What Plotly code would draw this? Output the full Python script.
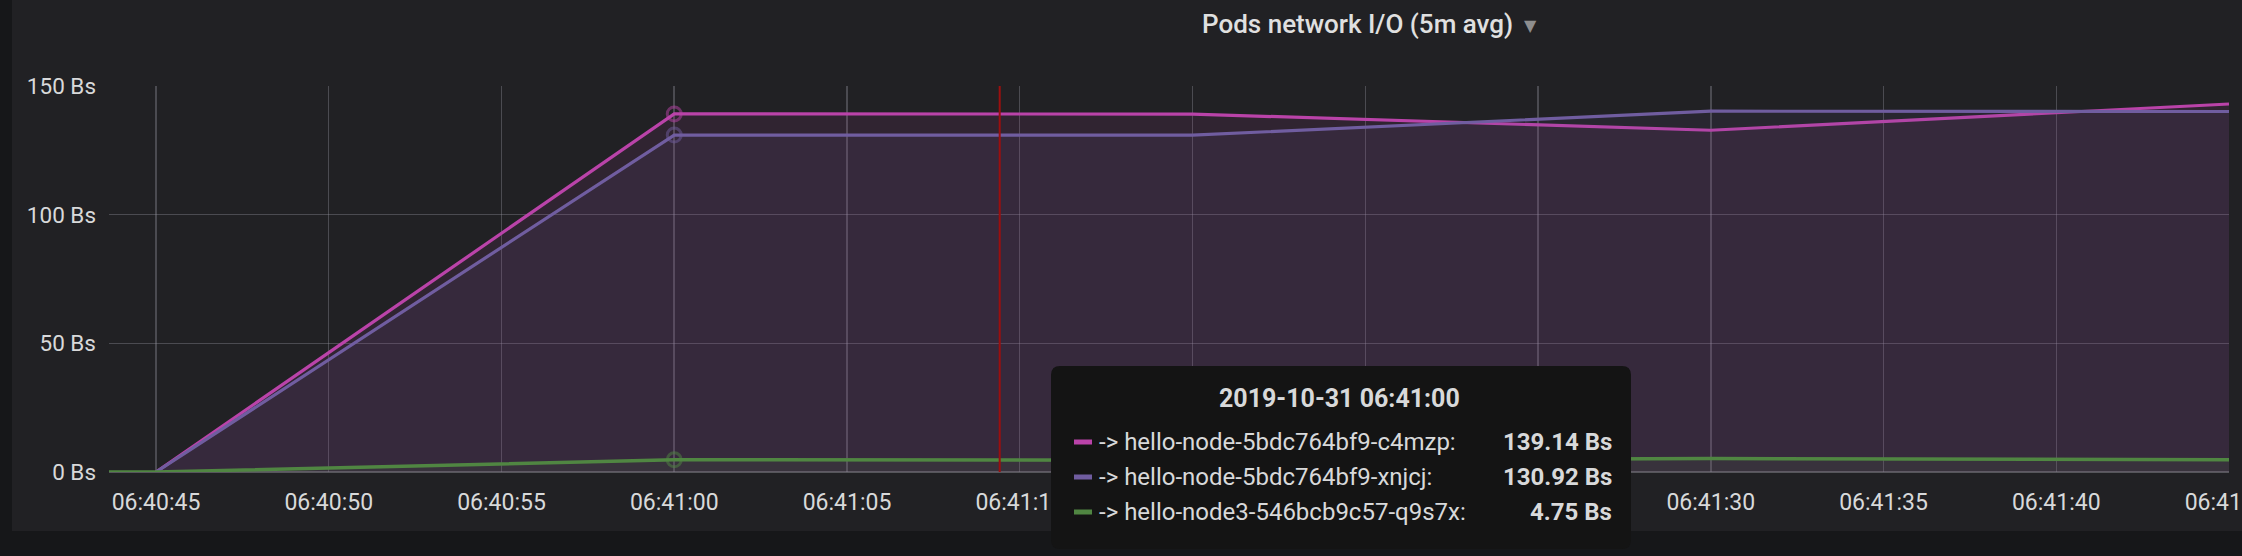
import plotly.graph_objects as go

# ---------------- data ----------------
times_pods = ["2019-10-31 06:40:45", "2019-10-31 06:41:00", "2019-10-31 06:41:15",
              "2019-10-31 06:41:30", "2019-10-31 06:41:45"]
c4mzp_values = [0.0, 139.14, 139.1, 132.8, 143.0]
xnjcj_values = [0.0, 130.92, 130.9, 140.2, 140.1]

times_node3 = ["2019-10-31 06:40:30", "2019-10-31 06:40:45", "2019-10-31 06:41:00",
               "2019-10-31 06:41:15", "2019-10-31 06:41:30", "2019-10-31 06:41:45"]
q9s7x_values = [0.0, 0.0, 4.75, 4.6, 5.2, 4.8]

series_names = ["-> hello-node-5bdc764bf9-c4mzp:", "-> hello-node-5bdc764bf9-xnjcj:",
                "-> hello-node3-546bcb9c57-q9s7x:"]
series_colors = ["#BA43A9", "#705DA0", "#508642"]
fill_colors = ["rgba(186,67,169,0.10)", "rgba(112,93,160,0.10)", "rgba(80,134,66,0.10)"]

hover_time = "2019-10-31 06:41:00"
hover_index_pods = 1
hover_index_node3 = 2
tooltip_title = "2019-10-31 06:41:00"
tooltip_values = ["139.14 Bs", "130.92 Bs", "4.75 Bs"]

crosshair_time = "2019-10-31 06:41:09.42"
x_range = ["2019-10-31 06:40:43.64", "2019-10-31 06:41:45"]
x_tick_times = ["2019-10-31 06:40:45", "2019-10-31 06:40:50", "2019-10-31 06:40:55",
                "2019-10-31 06:41:00", "2019-10-31 06:41:05", "2019-10-31 06:41:10",
                "2019-10-31 06:41:15", "2019-10-31 06:41:20", "2019-10-31 06:41:25",
                "2019-10-31 06:41:30", "2019-10-31 06:41:35", "2019-10-31 06:41:40",
                "2019-10-31 06:41:45"]
# labels hidden behind the tooltip in the reference are left blank
x_tick_labels = ["06:40:45", "06:40:50", "06:40:55", "06:41:00", "06:41:05", "06:41:10",
                 "", "", "", "06:41:30", "06:41:35", "06:41:40", "06:41:45"]
y_range = [0, 150]
y_ticks = [0, 50, 100, 150]
y_tick_labels = ["0 Bs", "50 Bs", "100 Bs", "150 Bs"]
chart_title = "Pods network I/O (5m avg)"

# ---------------- layout geometry (page pixels) ----------------
W, H = 2242, 556
PL, PR, PT, PB = 109, 2229, 86, 472   # plot area


def px_x(px):
    return (px - PL) / (PR - PL)


def px_y(py):
    return (PB - py) / (PB - PT)


TEXT = "#d8d9da"
FONT = "Roboto"
GRID = "rgba(150,150,160,0.36)"

fig = go.Figure()

all_x = [times_pods, times_pods, times_node3]
all_y = [c4mzp_values, xnjcj_values, q9s7x_values]
line_widths = [3.2, 3.2, 3.5]

for xs, ys, name, col, fc, lw in zip(all_x, all_y, series_names, series_colors, fill_colors, line_widths):
    fig.add_trace(go.Scatter(x=xs, y=ys, name=name, mode="lines",
                             line=dict(color=col, width=lw),
                             fill="tozeroy", fillcolor=fc,
                             hoverinfo="skip", showlegend=False))

# hover markers
hover_ys = [c4mzp_values[hover_index_pods], xnjcj_values[hover_index_pods],
            q9s7x_values[hover_index_node3]]
for hy, col in zip(hover_ys, series_colors):
    fig.add_trace(go.Scatter(x=[hover_time], y=[hy], mode="markers",
                             marker=dict(size=14, color="rgba(0,0,0,0)",
                                         line=dict(color=col, width=3)),
                             opacity=0.5, hoverinfo="skip", showlegend=False))

shapes = []
# panel background
shapes.append(dict(type="rect", xref="paper", yref="paper",
                   x0=px_x(12), x1=px_x(W + 20), y0=px_y(531), y1=px_y(-20),
                   fillcolor="#212124", line=dict(width=0), layer="below"))
# crosshair
shapes.append(dict(type="line", xref="x", yref="paper", x0=crosshair_time, x1=crosshair_time,
                   y0=0, y1=1, line=dict(color="#9b0f0f", width=2), layer="above"))

# tooltip box with rounded corners
bx0, bx1, by0, by1, r = 1051, 1631, 366, 549, 9
X0, X1 = px_x(bx0), px_x(bx1)
Y0, Y1 = px_y(by0), px_y(by1)
rx = r / (PR - PL)
ry = r / (PB - PT)
path = (f"M {X0 + rx},{Y0} L {X1 - rx},{Y0} Q {X1},{Y0} {X1},{Y0 - ry} "
        f"L {X1},{Y1 + ry} Q {X1},{Y1} {X1 - rx},{Y1} L {X0 + rx},{Y1} "
        f"Q {X0},{Y1} {X0},{Y1 + ry} L {X0},{Y0 - ry} Q {X0},{Y0} {X0 + rx},{Y0} Z")
shapes.append(dict(type="path", xref="paper", yref="paper", path=path,
                   fillcolor="#141414", line=dict(width=0), layer="above"))

annotations = []
annotations.append(dict(text=tooltip_title, xref="paper", yref="paper",
                        x=px_x(1339), y=px_y(398), xanchor="center", yanchor="middle",
                        showarrow=False, font=dict(family=FONT, size=25, color=TEXT, weight="bold")))
row_ys = [442, 477, 512]
for ry_px, name, col, val in zip(row_ys, series_names, series_colors, tooltip_values):
    shapes.append(dict(type="rect", xref="paper", yref="paper",
                       x0=px_x(1074), x1=px_x(1092), y0=px_y(ry_px - 2.5), y1=px_y(ry_px + 2.5),
                       fillcolor=col, line=dict(width=0), layer="above"))
    annotations.append(dict(text=name, xref="paper", yref="paper",
                            x=px_x(1097), y=px_y(ry_px), xanchor="left", yanchor="middle",
                            showarrow=False, font=dict(family=FONT, size=24, color=TEXT)))
    annotations.append(dict(text=val, xref="paper", yref="paper",
                            x=px_x(1614), y=px_y(ry_px), xanchor="right", yanchor="middle",
                            showarrow=False, font=dict(family=FONT, size=24, color=TEXT, weight="bold")))

# title and caret
annotations.append(dict(text=chart_title, xref="paper", yref="paper",
                        x=px_x(1357), y=px_y(24), xanchor="center", yanchor="middle",
                        showarrow=False, font=dict(family=FONT, size=26, color="#e0e0e0", weight=500)))
annotations.append(dict(text="▼", xref="paper", yref="paper",
                        x=px_x(1530), y=px_y(25), xanchor="center", yanchor="middle",
                        showarrow=False, font=dict(family="DejaVu Sans", size=16, color="#8e8e8e")))

fig.update_layout(
    width=W, height=H,
    margin=dict(l=PL, r=W - PR, t=PT, b=H - PB, autoexpand=False),
    paper_bgcolor="#161719", plot_bgcolor="rgba(0,0,0,0)",
    shapes=shapes, annotations=annotations,
    showlegend=False,
    font=dict(family=FONT, color=TEXT, size=22),
    xaxis=dict(type="date", range=x_range, tickvals=x_tick_times, ticktext=x_tick_labels,
               showgrid=True, gridcolor=GRID, gridwidth=1.5, zeroline=False, showline=False,
               ticks="", ticklabelstandoff=14, ticklabeloverflow="allow",
               tickfont=dict(size=23, color=TEXT),
               automargin=False, fixedrange=True),
    yaxis=dict(range=y_range, tickvals=y_ticks, ticktext=y_tick_labels,
               showgrid=True, gridcolor=GRID, gridwidth=1.5,
               zeroline=True, zerolinecolor="rgba(150,150,160,0.45)", zerolinewidth=2,
               showline=False, ticks="", ticklabelstandoff=12,
               tickfont=dict(size=22.5, color=TEXT), automargin=False, fixedrange=True),
)

fig.write_html(
    "out.html",
    config={"displayModeBar": False, "staticPlot": True},
    post_script="document.body.style.margin='0';document.body.style.overflow='hidden';"
                "document.body.style.background='#161719';",
)
